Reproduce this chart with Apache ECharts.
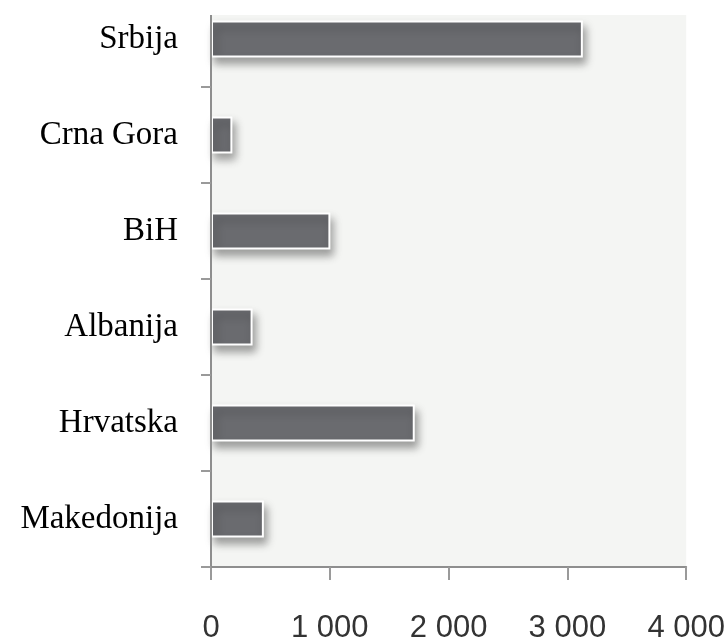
<!DOCTYPE html>
<html>
<head>
<meta charset="utf-8">
<script src="https://cdn.jsdelivr.net/npm/echarts@6/dist/echarts.min.js"></script>
<style>
  html, body { margin: 0; padding: 0; background: #fff; overflow: hidden; }
  /* the plot is cut at the top in the original, so the canvas starts a bit above the page */
  #chart { width: 728px; height: 653px; margin-top: -9px; }
</style>
</head>
<body>
<div id="chart"></div>
<script>
// zemlje, odozgo prema dolje
var categories = ['Srbija', 'Crna Gora', 'BiH', 'Albanija', 'Hrvatska', 'Makedonija']
var values = [3130, 180, 1005, 350, 1715, 445]
var xTicks = [0, 1000, 2000, 3000, 4000]

var chart = echarts.init(document.getElementById('chart'))

var option = {
  animation: false,
  grid: {
    left: 211,
    right: 39,
    top: 0,
    bottom: 72,
    show: true,
    backgroundColor: '#f4f5f3',
    borderWidth: 0
  },
  xAxis: {
    type: 'value',
    min: xTicks[0],
    max: xTicks[xTicks.length - 1],
    interval: 1000,
    axisLine: { show: true, lineStyle: { color: '#8e8e8e', width: 2 } },
    axisTick: { show: true, length: 13, lineStyle: { color: '#9a9a9a', width: 2 } },
    splitLine: { show: false },
    axisLabel: {
      margin: 46,
      color: '#333',
      fontFamily: 'Liberation Sans',
      fontSize: 31,
      formatter: function (v) {
        return String(v).replace(/\B(?=(\d{3})+(?!\d))/g, ' ')
      }
    }
  },
  yAxis: {
    type: 'category',
    data: categories,
    inverse: true,
    z: 3,
    axisLine: { show: true, lineStyle: { color: '#8e8e8e', width: 2 } },
    axisTick: { show: true, length: 10, lineStyle: { color: '#9a9a9a', width: 2 } },
    axisLabel: {
      margin: 33,
      color: '#000',
      fontFamily: 'Liberation Serif',
      fontSize: 33
    }
  },
  series: [{
    type: 'bar',
    data: values,
    barWidth: 37,
    itemStyle: {
      color: '#6a6b6f',
      borderColor: '#ffffff',
      borderWidth: 2,
      shadowColor: 'rgba(0,0,0,0.35)',
      shadowBlur: 8,
      shadowOffsetX: 3,
      shadowOffsetY: 6
    }
  }],
  graphic: [{
    type: 'rect',
    z: 100,
    shape: { x: 195, y: 0, width: 533, height: 24 },
    style: { fill: '#ffffff' }
  }]
}

chart.setOption(option)
</script>
</body>
</html>
